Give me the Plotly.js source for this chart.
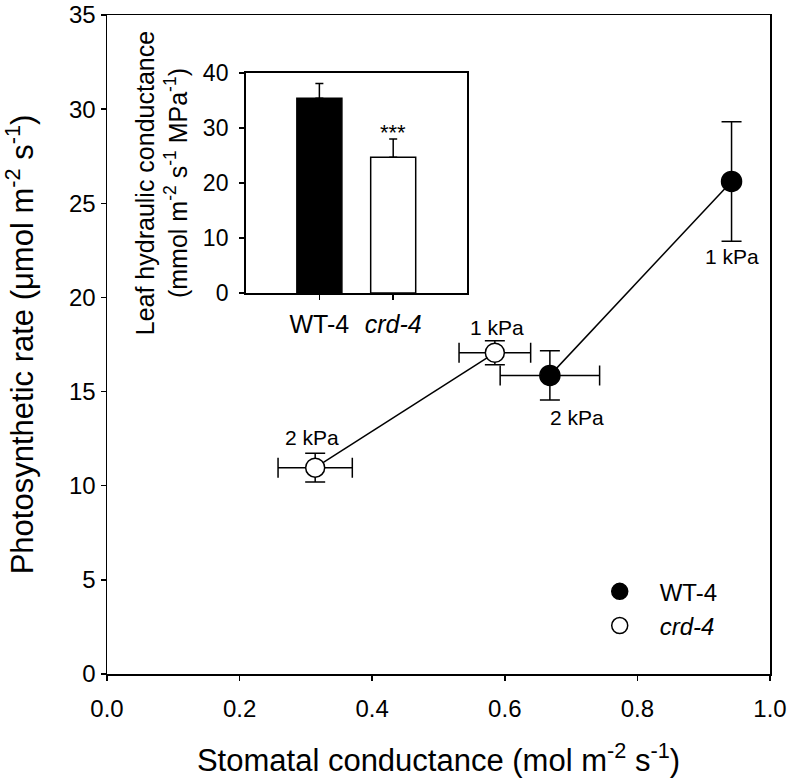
<!DOCTYPE html>
<html>
<head>
<meta charset="utf-8">
<script src="https://cdn.plot.ly/plotly-3.0.1.min.js"></script>
<style>
  html, body { margin: 0; padding: 0; background: #fff; }
</style>
</head>
<body>
<div id="plot"></div>
<script>
// main panel: stomatal conductance vs photosynthetic rate
var wtX = [0.942, 0.668];
var wtY = [26.16, 15.86];
var wtXErr = [NaN, 0.075];
var wtYErr = [3.17, 1.31];
var wtLabels = ['1 kPa', '2 kPa'];

var crdX = [0.585, 0.314];
var crdY = [17.06, 10.96];
var crdXErr = [0.054, 0.056];
var crdYErr = [0.64, 0.76];
var crdLabels = ['1 kPa', '2 kPa'];

// inset: leaf hydraulic conductance
var kCats = ['WT-4', 'crd-4'];
var kTickText = ['WT-4', '<i>crd-4</i>'];
var kVals = [35.4, 24.7];
var kErr = [2.7, 3.3];
var kColors = ['black', 'white'];

var font = 'Arial, "Liberation Sans", sans-serif';

var wtLine = {
  x: wtX, y: wtY, type: 'scatter', mode: 'lines',
  line: {color: 'black', width: 1.5}, showlegend: false, hoverinfo: 'skip'
};
var crdLine = {
  x: crdX, y: crdY, type: 'scatter', mode: 'lines',
  line: {color: 'black', width: 1.5}, showlegend: false, hoverinfo: 'skip'
};

var wtPts = {
  x: wtX, y: wtY, type: 'scatter', mode: 'markers', name: 'WT-4',
  marker: {symbol: 'circle', size: 20, color: 'black', line: {color: 'black', width: 1.5}},
  error_x: {type: 'data', array: wtXErr, color: 'black', thickness: 1.5, width: 10},
  error_y: {type: 'data', array: wtYErr, color: 'black', thickness: 1.5, width: 10}
};
var crdPts = {
  x: crdX, y: crdY, type: 'scatter', mode: 'markers', name: '<i>crd-4</i>',
  marker: {symbol: 'circle', size: 19, color: 'white', line: {color: 'black', width: 1.5}},
  error_x: {type: 'data', array: crdXErr, color: 'black', thickness: 1.5, width: 10},
  error_y: {type: 'data', array: crdYErr, color: 'black', thickness: 1.5, width: 10}
};

var bars = {
  x: kCats, y: kVals, type: 'bar', xaxis: 'x2', yaxis: 'y2', width: 0.61,
  marker: {color: kColors, line: {color: 'black', width: 1.5}},
  error_y: {type: 'data', symmetric: false, array: kErr, arrayminus: [0, 0],
            color: 'black', thickness: 1.5, width: 4},
  showlegend: false
};

var lblFont = {family: font, size: 21, color: 'black'};
var annotations = [
  {x: wtX[0], y: wtY[0] - wtYErr[0], xref: 'x', yref: 'y', text: wtLabels[0],
   showarrow: false, yanchor: 'top', yshift: -2, font: lblFont},
  {x: wtX[1], y: wtY[1] - wtYErr[1], xref: 'x', yref: 'y', text: wtLabels[1],
   showarrow: false, yanchor: 'top', xshift: 27, yshift: -4, font: lblFont},
  {x: crdX[0], y: crdY[0] + crdYErr[0], xref: 'x', yref: 'y', text: crdLabels[0],
   showarrow: false, yanchor: 'bottom', xshift: 2, yshift: 0, font: lblFont},
  {x: crdX[1], y: crdY[1] + crdYErr[1], xref: 'x', yref: 'y', text: crdLabels[1],
   showarrow: false, yanchor: 'bottom', xshift: -3, yshift: 2, font: lblFont},
  {x: kCats[1], y: kVals[1] + kErr[1], xref: 'x2', yref: 'y2', text: '***',
   showarrow: false, yanchor: 'bottom', yshift: -8, font: {family: font, size: 22, color: 'black'}}
];

var axisBase = {
  showline: true, linecolor: 'black', linewidth: 1.5, mirror: true,
  ticks: 'outside', ticklen: 5, tickwidth: 1.5, tickcolor: 'black',
  showgrid: false, zeroline: false, ticklabeloverflow: 'allow',
  tickfont: {family: font, size: 24, color: 'black'}
};

var layout = {
  width: 789, height: 783,
  margin: {l: 107, r: 19, t: 15, b: 109},
  paper_bgcolor: 'white', plot_bgcolor: 'white',
  font: {family: font, size: 24, color: 'black'},
  showlegend: true,
  legend: {x: 0.713, y: 0.159, xanchor: 'left', yanchor: 'top',
           bgcolor: 'rgba(0,0,0,0)', font: {family: font, size: 24, color: 'black'},
           itemwidth: 70, tracegroupgap: 0},
  xaxis: Object.assign({}, axisBase, {
    domain: [0, 1], range: [0, 1], dtick: 0.2, tick0: 0, tickformat: '.1f',
    ticklabelstandoff: 8,
    title: {text: 'Stomatal conductance (mol m<sup>-2</sup> s<sup>-1</sup>)',
            font: {family: font, size: 31, color: 'black'}, standoff: 28}
  }),
  yaxis: Object.assign({}, axisBase, {
    domain: [0, 1], range: [0, 35], dtick: 5, tick0: 0,
    title: {text: 'Photosynthetic rate (μmol m<sup>-2</sup> s<sup>-1</sup>)',
            font: {family: font, size: 31, color: 'black'}, standoff: 26}
  }),
  xaxis2: Object.assign({}, axisBase, {
    domain: [0.209, 0.543], anchor: 'y2', type: 'category', range: [-1, 2],
    tickvals: kCats, ticktext: kTickText, ticklabelstandoff: 3,
    tickfont: {family: font, size: 25, color: 'black'}
  }),
  yaxis2: Object.assign({}, axisBase, {
    domain: [0.578, 0.912], anchor: 'x2', range: [0, 40], dtick: 10, tick0: 0,
    ticklabelstandoff: 6,
    tickfont: {family: font, size: 23, color: 'black'},
    title: {text: 'Leaf hydraulic conductance<br>(mmol m<sup>-2</sup> s<sup>-1</sup> MPa<sup>-1</sup>)',
            font: {family: font, size: 25, color: 'black'}, standoff: 8}
  }),
  annotations: annotations
};

Plotly.newPlot('plot', [wtLine, crdLine, wtPts, crdPts, bars], layout,
  {displayModeBar: false, staticPlot: true});
</script>
</body>
</html>
